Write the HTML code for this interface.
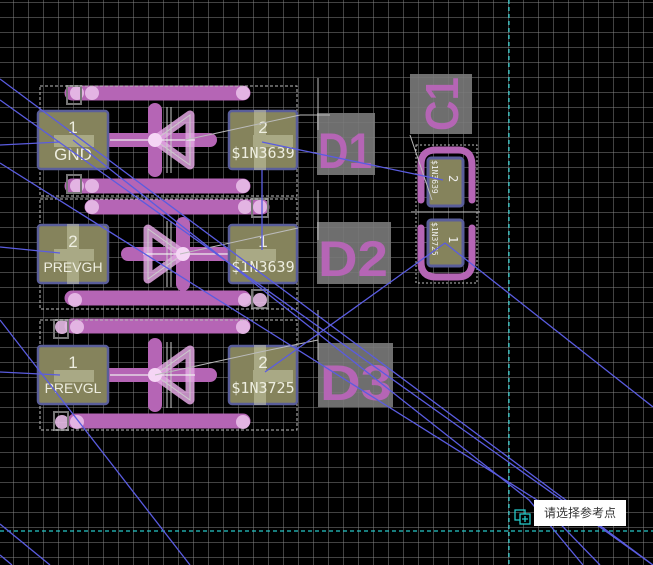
<!DOCTYPE html>
<html><head><meta charset="utf-8"><style>
html,body{margin:0;padding:0;background:#000;width:653px;height:565px;overflow:hidden}
svg{display:block}
.tip{position:absolute;left:534px;top:500px;width:92px;height:26px;background:#fff;font-family:"Liberation Sans","Noto Sans CJK SC",sans-serif;font-size:12px;color:#333;line-height:26px;text-align:center}
</style></head><body>
<svg width="653" height="565" xmlns="http://www.w3.org/2000/svg" font-family="Liberation Sans, DejaVu Sans, sans-serif">
<defs>
<pattern id="g" x="13" y="2" width="15" height="15" patternUnits="userSpaceOnUse">
<path d="M0 0V15M0 0H15" stroke="#858585" stroke-width="1" fill="none"/>
</pattern>
<g id="diodeL">
<path d="M-50 0H55" stroke="#b565b5" stroke-width="14" stroke-linecap="round"/>
<path d="M0 -30V30" stroke="#b565b5" stroke-width="14" stroke-linecap="round"/>
<path d="M0 0L35 -25V25Z" fill="none" stroke="#e2a6e2" stroke-width="9" stroke-linejoin="round" opacity="0.85"/>
<path d="M0 0L35 -25V25Z M12 -33V33 M16 -33V33" fill="none" stroke="#ccc" stroke-width="1"/>
<path d="M-45 0H40" stroke="#eee" stroke-width="1.2"/>
<circle cx="0" cy="0" r="7" fill="#f5d5f5"/>
</g>
</defs>
<rect width="653" height="565" fill="#000"/>
<rect width="653" height="565" fill="url(#g)"/>
<g stroke="#25c8c8" stroke-width="1.2" stroke-dasharray="4,3">
<path d="M509 0V565"/><path d="M0 531H653"/>
</g>

<g stroke="#b565b5" stroke-width="15" stroke-linecap="round">
<path d="M72 93H243"/><path d="M72 186H243"/>
<path d="M92 207H262"/><path d="M72 298H243"/>
<path d="M72 326H243"/><path d="M75 421H243"/>
</g>
<g fill="#e8bde8" opacity="0.9">
<circle cx="77" cy="93" r="7"/><circle cx="92" cy="93" r="7"/><circle cx="243" cy="93" r="7"/>
<circle cx="77" cy="186" r="7"/><circle cx="92" cy="186" r="7"/><circle cx="243" cy="186" r="7"/>
<circle cx="92" cy="207" r="7"/><circle cx="245" cy="207" r="7"/><circle cx="260" cy="207" r="7"/>
<circle cx="75" cy="300" r="7"/><circle cx="245" cy="300" r="7"/><circle cx="260" cy="300" r="7"/>
<circle cx="62" cy="327" r="7"/><circle cx="77" cy="327" r="7"/><circle cx="243" cy="327" r="7"/>
<circle cx="62" cy="422" r="7"/><circle cx="77" cy="422" r="7"/><circle cx="243" cy="422" r="7"/>
</g>
<g fill="none" stroke="#777" stroke-width="2">
<rect x="67" y="86" width="14" height="18"/><rect x="67" y="175" width="14" height="18"/>
<rect x="252" y="199" width="16" height="18"/><rect x="252" y="290" width="16" height="18"/>
<rect x="54" y="320" width="14" height="18"/><rect x="54" y="412" width="14" height="18"/>
</g>

<g fill="none" stroke="#bbb" stroke-width="1" stroke-dasharray="3,2">
<rect x="40" y="86" width="257" height="110"/>
<rect x="40" y="199" width="257" height="110"/>
<rect x="40" y="320" width="257" height="110"/>
</g>

<use href="#diodeL" x="155" y="140"/>
<use href="#diodeL" x="183" y="254" transform="rotate(180 183 254)"/>
<use href="#diodeL" x="155" y="375"/>

<g fill="#85835c" stroke="#5a5e9a" stroke-width="2.5">
<rect x="38" y="111" width="70" height="58" rx="3"/>
<rect x="229" y="111" width="68" height="58" rx="3"/>
<rect x="38" y="225" width="70" height="58" rx="3"/>
<rect x="229" y="225" width="68" height="58" rx="3"/>
<rect x="38" y="346" width="70" height="58" rx="3"/>
<rect x="229" y="346" width="68" height="58" rx="3"/>
</g>
<g fill="#c8c8a8" opacity="0.55">
<rect x="54" y="135" width="40" height="12"/><rect x="253" y="135" width="40" height="12"/>
<rect x="54" y="249" width="40" height="12"/><rect x="236" y="249" width="40" height="12"/>
<rect x="54" y="370" width="40" height="12"/><rect x="253" y="370" width="40" height="12"/>
<rect x="254" y="345" width="12" height="60"/><rect x="254" y="110" width="12" height="60"/>
<rect x="67" y="224" width="12" height="60"/>
</g>
<g fill="#eeeee0" font-size="17" text-anchor="middle">
<text x="73" y="133">1</text><text x="263" y="133">2</text>
<text x="73" y="247">2</text><text x="263" y="247">1</text>
<text x="73" y="368">1</text><text x="263" y="368">2</text>
</g>
<g fill="#eeeee0" font-size="15" text-anchor="middle" font-family="DejaVu Sans Mono, Liberation Mono, monospace">
<text x="73" y="160" font-size="17" font-family="Liberation Sans, sans-serif">GND</text>
<text x="263" y="158">$1N3639</text>
<text x="73" y="272" font-size="14" font-family="Liberation Sans, sans-serif">PREVGH</text>
<text x="263" y="272">$1N3639</text>
<text x="73" y="393" font-size="14" font-family="Liberation Sans, sans-serif">PREVGL</text>
<text x="263" y="393">$1N3725</text>
</g>

<g fill="#7a7a7a" opacity="0.9">
<rect x="317" y="113" width="58" height="62"/>
<rect x="317" y="222" width="74" height="62"/>
<rect x="318" y="343" width="75" height="64"/>
<rect x="410" y="74" width="62" height="60"/>
</g>
<g fill="#b565b5" font-weight="bold" font-size="50" font-family="Liberation Sans, sans-serif">
<text x="318" y="168" textLength="54" lengthAdjust="spacingAndGlyphs">D1</text>
<text x="318" y="276" textLength="70" lengthAdjust="spacingAndGlyphs">D2</text>
<text x="320" y="400" textLength="72" lengthAdjust="spacingAndGlyphs">D3</text>
<text transform="translate(458 104) rotate(-90)" text-anchor="middle" font-size="46" textLength="54" lengthAdjust="spacingAndGlyphs">C1</text>
</g>

<rect x="416" y="145" width="61" height="138" fill="none" stroke="#bbb" stroke-dasharray="2,2"/>
<g fill="none" stroke="#b565b5" stroke-width="7" stroke-linecap="round">
<path d="M421 200V165Q421 150 436 150H458Q472 150 472 165V200"/>
<path d="M421 228V262Q421 277 436 277H458Q472 277 472 262V228"/>
</g>
<path d="M411 212H480" stroke="#ccc" stroke-width="1"/>
<g fill="#85835c" stroke="#5a5e9a" stroke-width="3">
<rect x="428" y="158" width="35" height="48" rx="3"/>
<rect x="428" y="220" width="35" height="46" rx="3"/>
</g>
<g fill="#eee" font-size="8" font-family="DejaVu Sans Mono, monospace">
<text transform="translate(432 160) rotate(90)">$1N3639</text>
<text transform="translate(432 222) rotate(90)">$1N3725</text>
<text transform="translate(449 175) rotate(90)" font-size="12">2</text>
<text transform="translate(449 236) rotate(90)" font-size="12">1</text>
</g>

<g stroke="#bbb" stroke-width="1" fill="none">
<path d="M185 140L300 115L330 115"/>
<path d="M318 78V130"/><path d="M318 190V240"/><path d="M318 310V360"/>
<path d="M155 375L260 352L318 340"/>
<path d="M410 135L432 200"/>
<path d="M180 254L298 228"/>
</g>

<g stroke="#5a5ce0" stroke-width="1.3" fill="none">
<path d="M0 145L60 142"/><path d="M0 247L60 253"/><path d="M0 372L60 375"/>
<path d="M0 79L653 565"/>
<path d="M0 100L604 530L653 565"/>
<path d="M0 163L537 500L600 565"/>
<path d="M73 140L529 500L583 565"/>
<path d="M0 320L190 565"/>
<path d="M0 524L50 565"/><path d="M0 555L12 565"/>
<path d="M262 142L443 180"/><path d="M262 170V250"/>
<path d="M445 243L265 372"/><path d="M445 243L653 407"/>
</g>

<g fill="none" stroke="#25c8c8" stroke-width="1.3">
<rect x="515" y="510" width="10" height="10"/><rect x="520" y="514" width="10" height="10" fill="#000"/>
<path d="M522 519H528M525 516V522"/>
</g>
</svg>
<div class="tip">请选择参考点</div>
</body></html>
